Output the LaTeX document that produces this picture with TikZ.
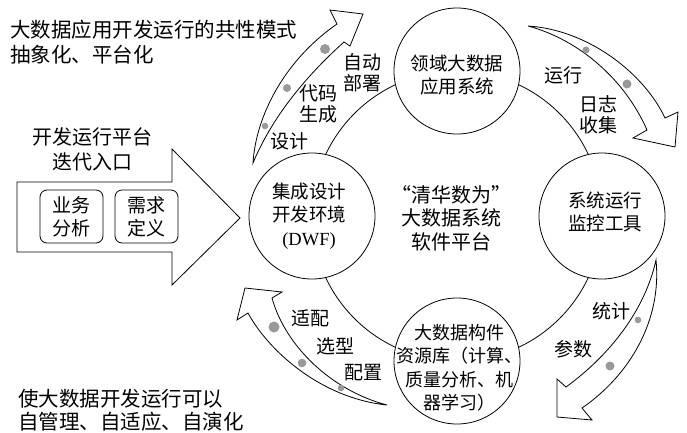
\documentclass[tikz,border=0pt]{standalone}
\usepackage{fontspec}
\setmainfont{Noto Sans CJK SC}
\newfontfamily\latinfont{Liberation Serif}

\tikzset{
  sys/.style={circle,draw,fill=white,minimum size=126pt,inner sep=0pt},
  lbl/.style={align=center,inner sep=0pt,font=\fontsize{19}{21.5}\selectfont},
  systxt/.style={lbl,font=\fontsize{18.5}{23.5}\selectfont},
  note/.style={align=left,inner sep=0pt,font=\fontsize{20.5}{25}\selectfont},
  task/.style={draw,rounded corners=7pt,minimum width=63pt,minimum height=53pt,
    inner sep=0pt,align=center,font=\fontsize{19}{23}\selectfont},
  flow/.style={draw,fill=white,line join=miter},
  bead/.style={fill=black!40,draw=none}
}

\begin{document}
\begin{tikzpicture}[x=1pt,y=-1pt,line width=0.8pt,node distance=145pt]
  \useasboundingbox (0,0) rectangle (687,432);

  % ring and the four stations
  \coordinate (core) at (457,216);
  \draw (core) circle (145pt);
  \node[sys] (app) [above of=core] {};
  \node[sys] (mon) [right of=core] {};
  \node[sys] (dwf) [left of=core]  {};
  \node[sys] (lib) [below of=core] {};
  \node[systxt] (apptxt) at ([yshift=-4pt]app.center) {领域大数据\\应用系统};
  \node[systxt] (montxt) at ([xshift=3pt,yshift=4pt]mon.center) {系统运行\\监控工具};
  \node[systxt] (dwftxt) at ([xshift=-3pt]dwf.center) {集成设计\\开发环境\\{\latinfont (DWF)}};
  \node[systxt,font=\fontsize{18}{23.5}\selectfont] (libtxt) at ([xshift=2pt,yshift=-7pt]lib.center)
    {大数据构件\\资源库（计算、\\质量分析、机\\器学习）};
  \node[lbl,font=\fontsize{20}{23.5}\selectfont] (title) at (451,218)
    {“清华数为”\\大数据系统\\软件平台};

  % entry arrow
  \draw[flow] (17,182) -- (172,182) -- (172,149) -- (240,218) -- (172,285)
    -- (172,252) -- (17,252) -- cycle;
  \node[task] (biz) at (71.5,216.5) {业务\\分析};
  \node[task] (req) at (146.5,216.5) {需求\\定义};
  \node[lbl,font=\fontsize{20}{25}\selectfont] (entry) at (92,149) {开发运行平台\\迭代入口};

  % curved arrows
  \draw[flow] (253,163) .. controls (256,115) and (285,60) .. (337,24) -- (330,10)
    -- (363,14) -- (350,46) -- (344,42) .. controls (315,68) and (275,110) .. (253,163) -- cycle;
  \draw[flow] (528,26) .. controls (590,30) and (645,75) .. (665,118) -- (678,112)
    -- (675,147) -- (633,138) -- (647,130) .. controls (625,80) and (580,40) .. (528,26) -- cycle;
  \draw[flow] (656,260) .. controls (662,320) and (630,375) .. (582,408) -- (592,420)
    -- (557,417) -- (557,379) -- (566,387) .. controls (610,355) and (645,310) .. (656,260) -- cycle;
  \draw[flow] (387,405) .. controls (330,390) and (285,345) .. (272,298) -- (282,292)
    -- (245,288) -- (237,320) -- (248,313) .. controls (268,350) and (320,398) .. (387,405) -- cycle;

  \foreach \x/\y/\r in {265/126/3.3, 287/88/4, 325/49/5, 586/50/3.5, 627/84/4.5,
      638/320/3.3, 610/366/4.5, 341/388/3.3, 302/363/4.3, 274/327/5.5}
    \fill[bead] (\x,\y) circle (\r pt);

  % step labels
  \node[lbl] (design) at (289,141.5) {设计};
  \node[lbl] (code)   at (318,104)   {代码\\生成};
  \node[lbl] (deploy) at (362.5,72.5) {自动\\部署};
  \node[lbl] (run)    at (563.5,75.5) {运行};
  \node[lbl] (log)    at (598.5,115)  {日志\\收集};
  \node[lbl] (stat)   at (611,311.5)  {统计};
  \node[lbl] (param)  at (573,349)    {参数};
  \node[lbl] (fit)    at (310,318.5)  {适配};
  \node[lbl] (pick)   at (335,346)    {选型};
  \node[lbl] (conf)   at (363,372.5)  {配置};

  % side notes
  \node[note,anchor=west] (goal) at (10,42.5) {大数据应用开发运行的共性模式\\抽象化、平台化};
  \node[note,anchor=west,font=\fontsize{20.5}{23}\selectfont] (aim) at (18,410.5)
    {使大数据开发运行可以\\自管理、自适应、自演化};
\end{tikzpicture}
\end{document}
